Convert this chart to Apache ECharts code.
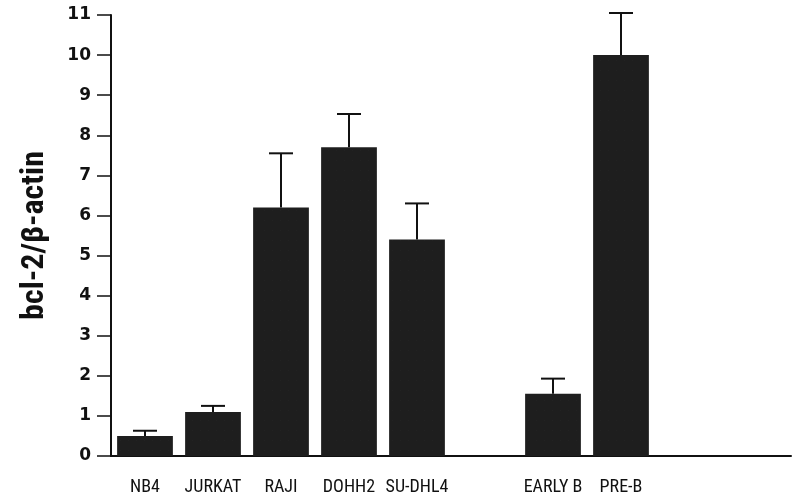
<!doctype html>
<html><head><meta charset="utf-8" />
<style>
  html,body,#app{margin:0;padding:0;width:806px;height:499px;background:#ffffff}
</style>
<script src="https://cdn.jsdelivr.net/npm/echarts@6.0.0/dist/echarts.min.js"></script>
</head><body><div id="app"></div>
<script>
// cell lines; empty slots keep the gaps seen in the figure
const categories = ['NB4', 'JURKAT', 'RAJI', 'DOHH2', 'SU-DHL4', '', 'EARLY B', 'PRE-B', '', ''];
const ratio = [0.5, 1.1, 6.2, 7.7, 5.4, null, 1.55, 10.0, null, null];
const ratioUpper = [0.63, 1.25, 7.55, 8.53, 6.3, null, 1.93, 11.05, null, null];
const yTicks = [0, 1, 2, 3, 4, 5, 6, 7, 8, 9, 10, 11];

const narrow = "'Liberation Sans Narrow', 'Roboto Condensed', 'Liberation Sans', sans-serif";

const errData = categories.map((c, i) => ratio[i] == null ? null : [i, ratio[i], ratioUpper[i]]).filter(Boolean);

const chart = echarts.init(document.getElementById('app'));
chart.setOption({
  backgroundColor: '#ffffff',
  animation: false,
  grid: { left: 111, right: 15, top: 15, bottom: 43 },
  xAxis: {
    type: 'category', data: categories,
    axisLine: { lineStyle: { color: '#111', width: 2 } },
    axisTick: { show: false },
    axisLabel: { color: '#111', fontFamily: narrow, fontSize: 18, margin: 22, interval: 0 }
  },
  yAxis: {
    type: 'value', min: yTicks[0], max: yTicks[yTicks.length - 1], interval: 1,
    name: 'bcl-2/β-actin', nameLocation: 'middle', nameGap: 60,
    nameTextStyle: { color: '#111', fontFamily: narrow, fontSize: 32, fontWeight: 'bold' },
    axisLine: { show: true, lineStyle: { color: '#111', width: 2 } },
    axisTick: { show: true, length: 14, lineStyle: { color: '#111', width: 1.5 } },
    axisLabel: { color: '#111', fontFamily: "'DejaVu Sans', sans-serif", fontSize: 17, fontWeight: 'bold', margin: 20 },
    splitLine: { show: false }
  },
  series: [
    {
      type: 'bar', data: ratio, barCategoryGap: '18%',
      itemStyle: {
        color: '#1e1e1e',
        decal: { symbol: 'rect', symbolSize: 0.25, color: 'rgba(255,255,255,0.35)', dashArrayX: [1, 7], dashArrayY: [1, 9], rotation: 0 }
      }
    },
    {
      type: 'custom', data: errData, z: 3,
      renderItem: function (params, api) {
        const x = api.value(0);
        const top = api.coord([x, api.value(1)]);
        const up = api.coord([x, api.value(2)]);
        const half = 12;
        return {
          type: 'group',
          children: [
            { type: 'line', shape: { x1: top[0], y1: top[1], x2: up[0], y2: up[1] }, style: { stroke: '#111', lineWidth: 2 } },
            { type: 'line', shape: { x1: up[0] - half, y1: up[1], x2: up[0] + half, y2: up[1] }, style: { stroke: '#111', lineWidth: 2 } }
          ]
        };
      }
    }
  ]
});
</script></body></html>
